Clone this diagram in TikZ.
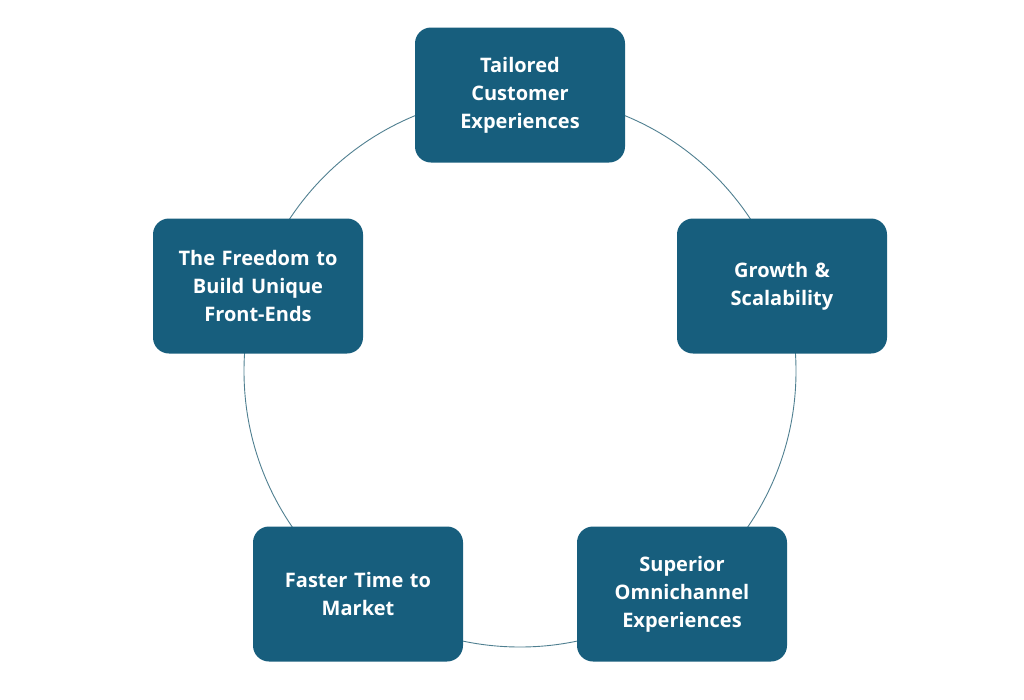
\documentclass[tikz,border=0pt]{standalone}
\usepackage{fontspec}
\setmainfont{Open Sans}
\definecolor{boxc}{HTML}{175E7D}
\definecolor{ringc}{HTML}{4F7F90}
\begin{document}
\begin{tikzpicture}[x=1pt,y=-1pt,
  card/.style={fill=boxc,rounded corners=16pt,minimum width=210pt,minimum height=135pt,
    text width=200pt,align=center,text=white,font=\bfseries\fontsize{20}{28}\selectfont}]
\useasboundingbox (0,0) rectangle (1024,699);
\draw[ringc,line width=0.9pt] (520,371) circle (276);
\node[card] (a) at (520,95) {Tailored\\Customer\\Experiences};
\node[card] (b) at (782,286) {Growth \&\\Scalability};
\node[card] (c) at (682,594) {Superior\\Omnichannel\\Experiences};
\node[card] (d) at (358,594) {Faster Time to\\Market};
\node[card] (e) at (258,286) {The Freedom to\\Build Unique\\Front-Ends};
\end{tikzpicture}
\end{document}
